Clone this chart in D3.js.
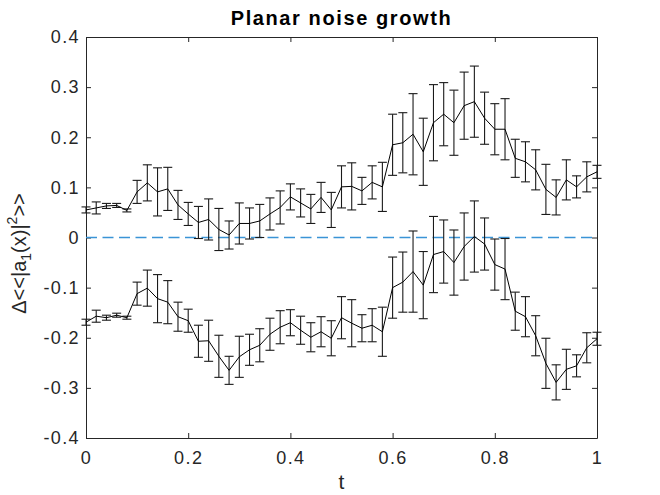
<!DOCTYPE html>
<html>
<head>
<meta charset="UTF-8">
<title>Planar noise growth</title>
<style>
    body { margin: 0; background: #fff; }
    svg { display: block; font-family: "Liberation Sans", Arial, sans-serif; }
    .axis path, .axis line { stroke: #262626; stroke-width: 1; }
    .axis text { fill: #262626; font-size: 18px; letter-spacing: 1.4px; font-family: "Liberation Sans", Arial, sans-serif; }
</style>
</head>
<body>
<svg id="chart" width="660" height="495"></svg>
<script src="https://d3js.org/d3.v7.min.js"></script>
<script>
// sample times
const tValues = [0, 0.02, 0.04, 0.06, 0.08, 0.1, 0.12, 0.14, 0.16, 0.18,
    0.2, 0.22, 0.24, 0.26, 0.28, 0.3, 0.32, 0.34, 0.36, 0.38,
    0.4, 0.42, 0.44, 0.46, 0.48, 0.5, 0.52, 0.54, 0.56, 0.58,
    0.6, 0.62, 0.64, 0.66, 0.68, 0.7, 0.72, 0.74, 0.76, 0.78,
    0.8, 0.82, 0.84, 0.86, 0.88, 0.9, 0.92, 0.94, 0.96, 0.98, 1];

// upper curve
const upperMean = [0.055, 0.059, 0.063, 0.064, 0.054, 0.091, 0.109, 0.091, 0.097, 0.065,
    0.047, 0.030, 0.036, 0.016, 0.005, 0.028, 0.028, 0.033, 0.047, 0.060,
    0.081, 0.069, 0.057, 0.080, 0.055, 0.101, 0.102, 0.093, 0.110, 0.101,
    0.185, 0.189, 0.206, 0.171, 0.229, 0.246, 0.229, 0.263, 0.271, 0.238,
    0.216, 0.216, 0.158, 0.151, 0.135, 0.096, 0.080, 0.115, 0.101, 0.121, 0.131];

// lower curve
const lowerMean = [-0.169, -0.157, -0.160, -0.155, -0.160, -0.112, -0.101, -0.122, -0.129, -0.158,
    -0.166, -0.207, -0.206, -0.237, -0.265, -0.238, -0.224, -0.215, -0.193, -0.179,
    -0.170, -0.185, -0.199, -0.188, -0.201, -0.160, -0.171, -0.181, -0.175, -0.188,
    -0.100, -0.089, -0.068, -0.095, -0.034, -0.028, -0.050, -0.018, 0.002, -0.013,
    -0.054, -0.063, -0.147, -0.158, -0.196, -0.251, -0.289, -0.263, -0.256, -0.220, -0.202];

// half-length of error bars (same for both curves)
const errHalf = [0.006, 0.012, 0.005, 0.004, 0.003, 0.023, 0.036, 0.048, 0.043, 0.029,
    0.023, 0.032, 0.041, 0.042, 0.028, 0.041, 0.031, 0.033, 0.032, 0.033,
    0.026, 0.028, 0.029, 0.030, 0.035, 0.042, 0.047, 0.027, 0.033, 0.049,
    0.061, 0.060, 0.081, 0.067, 0.076, 0.063, 0.065, 0.067, 0.071, 0.052,
    0.051, 0.061, 0.038, 0.040, 0.040, 0.050, 0.035, 0.040, 0.022, 0.030, 0.013];

const xTicks = [0, 0.2, 0.4, 0.6, 0.8, 1];
const yTicks = [-0.4, -0.3, -0.2, -0.1, 0, 0.1, 0.2, 0.3, 0.4];
const refLevel = [0];

const svg = d3.select("#chart");
const margin = {top: 37, right: 63, bottom: 57, left: 86};
const width = 660 - margin.left - margin.right;
const height = 495 - margin.top - margin.bottom;

const x = d3.scaleLinear().domain([0, 1]).range([0, width]);
const y = d3.scaleLinear().domain([-0.4, 0.4]).range([height, 0]);

const g = svg.append("g").attr("transform", `translate(${margin.left},${margin.top})`);

const fmt = d => String(+d.toFixed(1));

// axes, ticks pointing inward like matlab
g.append("g").attr("class", "axis")
    .attr("transform", `translate(0,${height})`)
    .call(d3.axisBottom(x).tickValues(xTicks).tickSize(-5).tickSizeOuter(0).tickPadding(13).tickFormat(fmt));
g.append("g").attr("class", "axis")
    .call(d3.axisTop(x).tickValues(xTicks).tickSize(-5).tickSizeOuter(0).tickFormat(""));
g.append("g").attr("class", "axis")
    .call(d3.axisLeft(y).tickValues(yTicks).tickSize(-5).tickSizeOuter(0).tickPadding(6).tickFormat(fmt));
g.append("g").attr("class", "axis")
    .attr("transform", `translate(${width},0)`)
    .call(d3.axisRight(y).tickValues(yTicks).tickSize(-5).tickSizeOuter(0).tickFormat(""));

// dashed zero line
g.selectAll(".ref").data(refLevel).join("line")
    .attr("class", "ref")
    .attr("x1", x(0)).attr("x2", x(1))
    .attr("y1", d => y(d)).attr("y2", d => y(d))
    .attr("stroke", "#3a94d6")
    .attr("stroke-width", 1.7)
    .attr("stroke-dasharray", "11,5.5");

const series = [upperMean, lowerMean];
const line = d3.line().x((d, i) => x(tValues[i])).y(d => y(d));
const cap = 4.5;

series.forEach(vals => {
    const pts = vals.map((v, i) => ({t: tValues[i], v: v, e: errHalf[i]}));
    const eb = g.append("g").attr("stroke", "#1a1a1a").attr("stroke-width", 1.1).attr("fill", "none");
    eb.selectAll(".stem").data(pts).join("line")
        .attr("x1", d => x(d.t)).attr("x2", d => x(d.t))
        .attr("y1", d => y(d.v - d.e)).attr("y2", d => y(d.v + d.e));
    eb.selectAll(".capTop").data(pts).join("line")
        .attr("x1", d => x(d.t) - cap).attr("x2", d => x(d.t) + cap)
        .attr("y1", d => y(d.v + d.e)).attr("y2", d => y(d.v + d.e));
    eb.selectAll(".capBot").data(pts).join("line")
        .attr("x1", d => x(d.t) - cap).attr("x2", d => x(d.t) + cap)
        .attr("y1", d => y(d.v - d.e)).attr("y2", d => y(d.v - d.e));
    g.append("path")
        .datum(vals)
        .attr("d", line)
        .attr("fill", "none")
        .attr("stroke", "#000")
        .attr("stroke-width", 1);
});

// title
svg.append("text")
    .attr("x", margin.left + width / 2)
    .attr("y", 25)
    .attr("text-anchor", "middle")
    .attr("font-weight", "bold")
    .attr("font-size", 20)
    .attr("letter-spacing", 1.6)
    .attr("fill", "#000")
    .text("Planar noise growth");

// x label
svg.append("text")
    .attr("x", margin.left + width / 2)
    .attr("y", 489)
    .attr("text-anchor", "middle")
    .attr("font-size", 21)
    .attr("fill", "#262626")
    .text("t");

// y label with sub/superscripts
const yl = svg.append("text")
    .attr("transform", `translate(26,${margin.top + height / 2 + 16}) rotate(-90)`)
    .attr("text-anchor", "middle")
    .attr("font-size", 20)
    .attr("fill", "#262626");
yl.append("tspan").text("\u0394<<|a");
yl.append("tspan").attr("font-size", 14).attr("dy", 5).text("1");
yl.append("tspan").attr("dy", -5).text("(x)|");
yl.append("tspan").attr("font-size", 14).attr("dy", -9).text("2");
yl.append("tspan").attr("dy", 9).text(">>");
</script>
</body>
</html>
